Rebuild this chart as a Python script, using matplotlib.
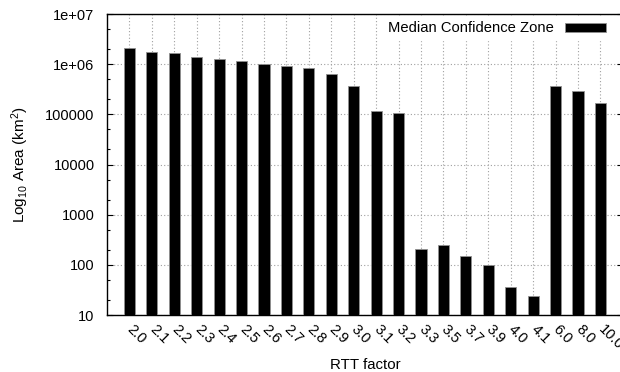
import matplotlib.pyplot as plt
import matplotlib.ticker as mticker
from matplotlib.patches import Patch

plt.rcParams['font.family'] = ['Liberation Sans', 'DejaVu Sans']
plt.rcParams['font.size'] = 10.5
plt.rcParams['mathtext.default'] = 'regular'

# ================= DATA =================
rtt_factors = ["2.0", "2.1", "2.2", "2.3", "2.4", "2.5", "2.6", "2.7", "2.8", "2.9",
               "3.0", "3.1", "3.2", "3.3", "3.5", "3.7", "3.9", "4.0", "4.1",
               "6.0", "8.0", "10.0"]
median_area = [2.07e6, 1.72e6, 1.67e6, 1.41e6, 1.28e6, 1.17e6, 9.9e5, 9.1e5, 8.4e5, 6.4e5,
               3.7e5, 1.15e5, 1.05e5, 210, 252, 148, 101, 35.7, 24.3,
               3.7e5, 2.92e5, 1.7e5]

y_ticks = [10, 100, 1000, 10000, 100000, 1e6, 1e7]
y_tick_labels = ["10", "100", "1000", "10000", "100000", "1e+06", "1e+07"]

# ================= PLOT =================
fig = plt.figure(figsize=(6.2, 3.72), dpi=100)
ax = fig.add_axes([0.1726, 0.1532, 0.832, 0.809])

x = list(range(len(rtt_factors)))
ax.bar(x, median_area, width=0.5, bottom=0, color='black',
       edgecolor='#909090', linewidth=0.6, zorder=3)

ax.set_yscale('log')
ax.set_ylim(10, 1e7)
ax.set_xlim(-1, 22)
ax.set_yticks(y_ticks)
ax.set_yticklabels(y_tick_labels)
ax.yaxis.set_minor_locator(mticker.LogLocator(base=10, subs=[2, 5]))
ax.yaxis.set_minor_formatter(mticker.NullFormatter())
ax.tick_params(axis='y', which='major', direction='in', length=4, width=0.8,
               right=True, pad=9)
ax.tick_params(axis='y', which='minor', direction='in', length=2.5, width=0.8, right=True)

ax.set_xticks(x)
ax.set_xticklabels(rtt_factors)
ax.tick_params(axis='x', length=0, pad=8.5)
plt.setp(ax.get_xticklabels(), rotation=-45, ha='left', va='center',
         rotation_mode='anchor')

# dotted grid behind the bars
ax.grid(True, which='major', color='#a0a0a0', linestyle=(0, (1, 2)), linewidth=0.8)
ax.set_axisbelow(True)
for s in ax.spines.values():
    s.set_linewidth(1.0)

ax.set_xlabel('RTT factor', fontsize=10.8)
ax.set_ylabel('Log$_{10}$ Area (km$^2$)', fontsize=11)
ax.xaxis.set_label_coords(0.5, -0.143)
ax.yaxis.set_label_coords(-0.148, 0.5)

# opaque key, kept under the frame lines
leg = ax.legend([Patch(facecolor='black', edgecolor='#909090', linewidth=0.6)],
                ['Median Confidence Zone'], loc='upper right',
                bbox_to_anchor=(0.977, 0.993), markerfirst=False,
                handlelength=2.8, handleheight=0.55, handletextpad=0.7,
                borderpad=0.35, borderaxespad=0.0, fontsize=10.6,
                frameon=True, fancybox=False, framealpha=1.0,
                facecolor='white', edgecolor='white')
leg.set_zorder(2.4)

fig.savefig('out.png', dpi=100)
